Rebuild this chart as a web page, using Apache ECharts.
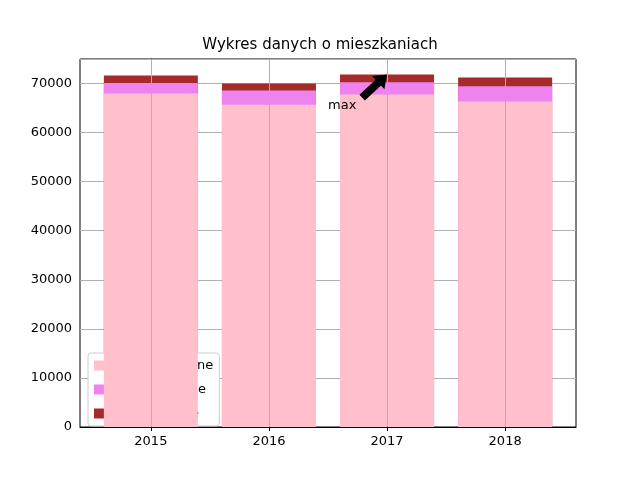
<!DOCTYPE html>
<html><head><meta charset="utf-8">
<script src="https://cdn.jsdelivr.net/npm/echarts@6/dist/echarts.min.js"></script>
<style>body{margin:0}#c{width:640px;height:480px}</style></head>
<body><div id="c"></div>
<script>
var years = ['2015', '2016', '2017', '2018'];
var indywidualne = [67960, 65700, 67760, 66330];
var spoldzielcze = [2140, 2870, 2510, 3120];
var komunalne = [1530, 1430, 1570, 1770];

var chart = echarts.init(document.getElementById('c'));
var font = 'DejaVu Sans';
// cumulative tops for overlapped bars
var top1 = indywidualne.slice();
var top2 = top1.map(function (v, i) { return v + spoldzielcze[i]; });
var top3 = top2.map(function (v, i) { return v + komunalne[i]; });
function bar(name, arr, color, z) {
    return { name: name, type: 'bar', barWidth: 94, barGap: '-100%', z: z,
        data: arr.map(function (v, i) { return [i, v]; }),
        itemStyle: { color: color }, emphasis: { disabled: true } };
}
chart.setOption({
    animation: false,
    textStyle: { fontFamily: font, color: '#000' },
    title: { text: 'Wykres danych o mieszkaniach', left: 'center', top: 33,
        textStyle: { fontSize: 15, fontWeight: 'normal', fontFamily: font, color: '#000' } },
    grid: { left: 80, right: 64, top: 59, bottom: 53, show: true, borderColor: '#000', borderWidth: 1 },
    legend: { orient: 'vertical', left: 88, top: 353, itemWidth: 28, itemHeight: 10, itemGap: 11,
        icon: 'rect', backgroundColor: '#fff', borderColor: '#ccc', borderWidth: 1, borderRadius: 3, padding: [6, 6, 6, 6],
        textStyle: { fontSize: 13, fontFamily: font, color: '#000' },
        data: ['indywidualne', 'spółdzielcze', 'komunalne'] },
    xAxis: { type: 'value', min: -0.6, max: 3.6,
        axisLine: { lineStyle: { color: '#000' } },
        axisTick: { show: true, customValues: [0, 1, 2, 3], length: 4, lineStyle: { color: '#000' } },
        axisLabel: { customValues: [0, 1, 2, 3], fontSize: 13, color: '#000', margin: 8,
            formatter: function (v) { return years[Math.round(v)]; } },
        splitLine: { show: false } },
    yAxis: { type: 'value', min: 0, max: 75000, interval: 10000,
        axisLine: { show: true, lineStyle: { color: '#000' } },
        axisTick: { show: true, length: 4, lineStyle: { color: '#000' } },
        axisLabel: { fontSize: 13, color: '#000', showMaxLabel: false,
            formatter: function (v) { return v > 70000 ? '' : v; } },
        splitLine: { lineStyle: { color: '#b0b0b0' } } },
    series: [
        bar('indywidualne', top1, '#ffc0cb', 4),
        bar('spółdzielcze', top2, '#ee82ee', 3),
        bar('komunalne', top3, '#a52a2a', 2),
        { type: 'line', data: [], silent: true, z: 10,
          markLine: { silent: true, symbol: 'none', label: { show: false },
            lineStyle: { color: '#b0b0b0', type: 'solid', width: 1 },
            data: [0, 1, 2, 3].map(function (x) { return { xAxis: x }; }) } }
    ]
});

// annotation "max" with arrow
var mi = top3.indexOf(Math.max.apply(null, top3));
var tip = chart.convertToPixel({ gridIndex: 0 }, [mi, top3[mi]]);
var txt = chart.convertToPixel({ gridIndex: 0 }, [mi - 0.38, 65500]);
var tail = [txt[0] + 20, txt[1] - 8];
var dx = tip[0] - tail[0], dy = tip[1] - tail[1], L = Math.sqrt(dx * dx + dy * dy);
var ux = dx / L, uy = dy / L, nx = -uy, ny = ux, hw = 4, hh = 9, hl = 12;
var b = [tip[0] - ux * hl, tip[1] - uy * hl];
chart.setOption({ graphic: [
    { type: 'text', x: txt[0], y: txt[1], style: { text: 'max', font: '13px DejaVu Sans', fill: '#000', align: 'center', verticalAlign: 'middle' }, z: 100 },
    { type: 'polygon', z: 100, shape: { points: [
        [tail[0] + nx * hw, tail[1] + ny * hw], [b[0] + nx * hw, b[1] + ny * hw],
        [b[0] + nx * hh, b[1] + ny * hh], tip, [b[0] - nx * hh, b[1] - ny * hh],
        [b[0] - nx * hw, b[1] - ny * hw], [tail[0] - nx * hw, tail[1] - ny * hw]] },
      style: { fill: '#000' } }
] });
</script></body></html>
